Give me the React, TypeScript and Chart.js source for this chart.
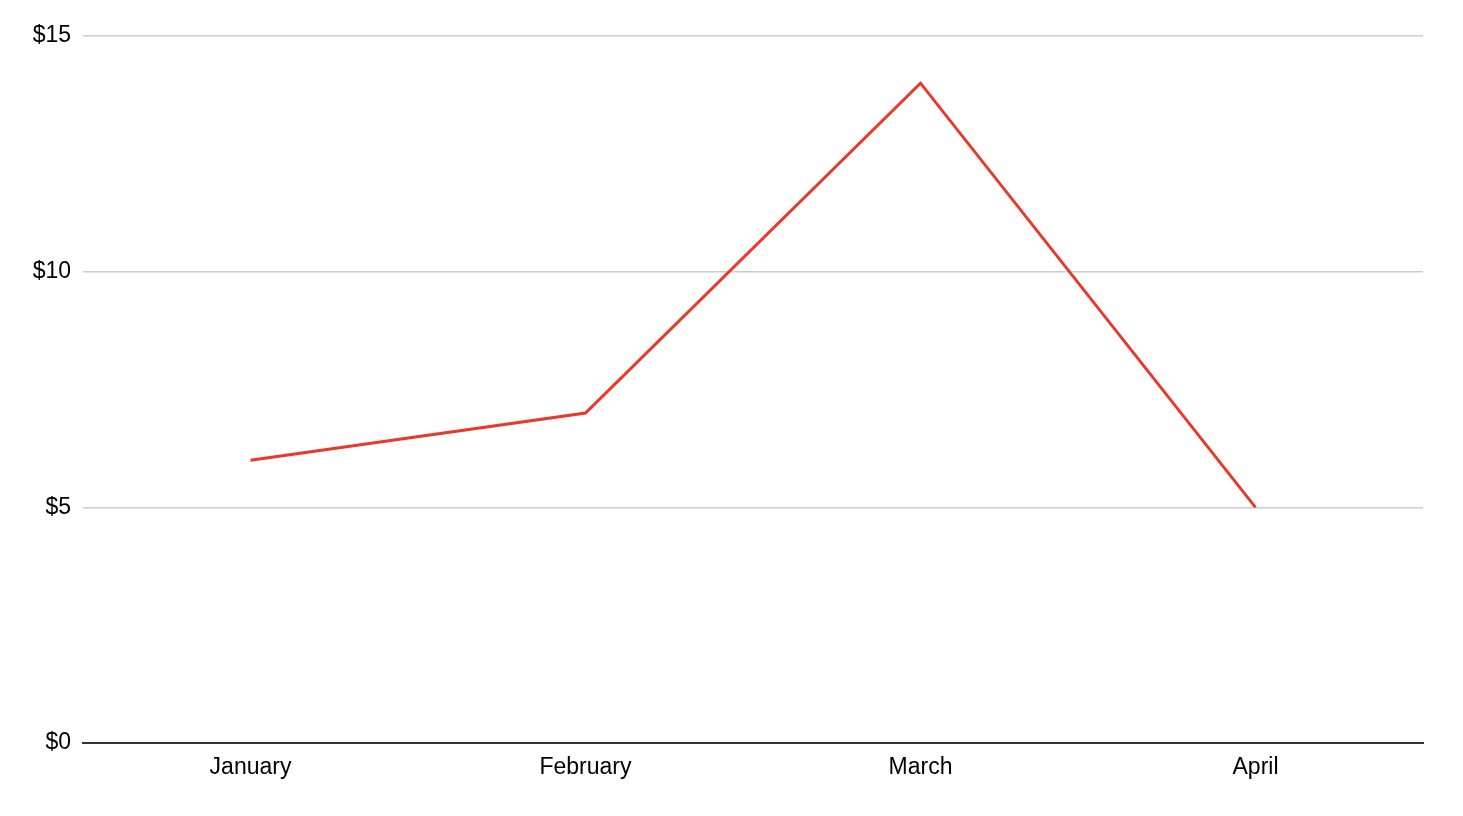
import React, { useEffect, useRef } from "react";
import { Chart, registerables } from "chart.js";

Chart.register(...registerables);

const months = ["January", "February", "March", "April"];
const values = [6, 7, 14, 5];
const yTicks = [0, 5, 10, 15];

export default function App() {
  const ref = useRef<HTMLCanvasElement | null>(null);
  useEffect(() => {
    document.body.style.margin = "0";
    const ctx = ref.current!;
    const chart = new Chart(ctx, {
      type: "line",
      data: {
        labels: months,
        datasets: [
          {
            data: values,
            borderColor: "#e8392b",
            borderWidth: 3,
            pointRadius: 0,
            pointHoverRadius: 0,
            tension: 0,
            fill: false,
          },
        ],
      },
      options: {
        animation: false,
        responsive: false,
        maintainAspectRatio: false,
        layout: { padding: { top: 36, right: 40, bottom: 0, left: 0 } },
        plugins: { legend: { display: false }, tooltip: { enabled: false } },
        scales: {
          x: {
            offset: true,
            grid: { display: false, drawTicks: false },
            border: { display: true, color: "#333", width: 2 },
            ticks: {
              color: "#000",
              padding: 11,
              font: { family: "'Liberation Sans', Arial, sans-serif", size: 23 },
            },
            afterFit: (s: any) => {
              s.height = 73;
            },
          },
          y: {
            min: 0,
            max: 15,
            afterBuildTicks: (s: any) => {
              s.ticks = yTicks.map((v) => ({ value: v }));
            },
            grid: { color: "#cccccc", lineWidth: 1.5, drawTicks: false },
            border: { display: false },
            ticks: {
              color: "#000",
              padding: 12,
              font: { family: "'Liberation Sans', Arial, sans-serif", size: 23 },
              callback: (v: any) => "$" + v,
            },
            afterFit: (s: any) => {
              s.width = 83;
            },
          },
        },
      },
    });
    return () => chart.destroy();
  }, []);
  return (
    <div style={{ position: "absolute", left: 0, top: 0, width: 1463, height: 816, background: "#fff" }}>
      <canvas ref={ref} width={1463} height={816} style={{ display: "block" }} />
    </div>
  );
}
